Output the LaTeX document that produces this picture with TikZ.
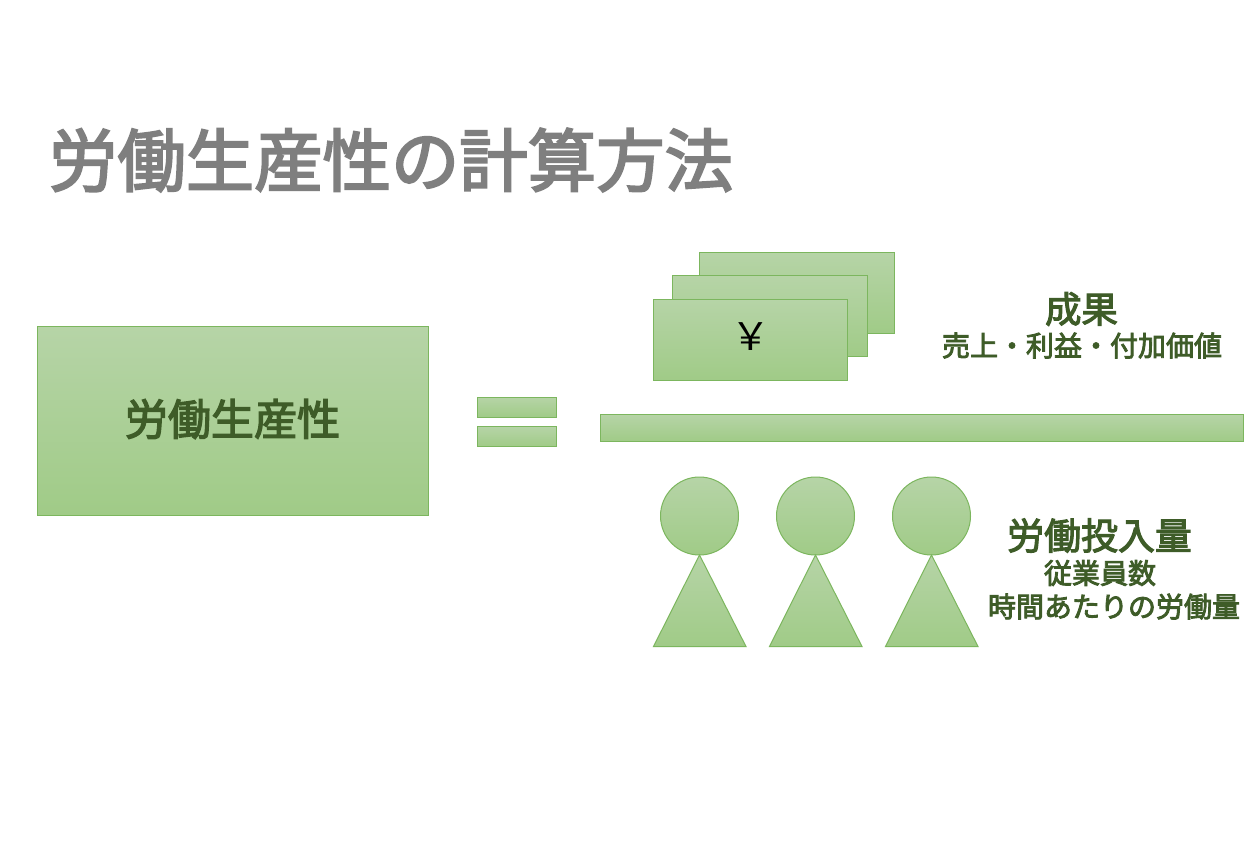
\documentclass[tikz,border=0pt]{standalone}
\usepackage{fontspec}
\setmainfont{Noto Sans CJK JP}[FakeBold=3]
\newfontfamily\plainjp{Noto Sans CJK JP}
\definecolor{gtop}{HTML}{B6D4A7}
\definecolor{gbot}{HTML}{A0CB87}
\definecolor{gline}{HTML}{7CB65E}
\definecolor{gtext}{HTML}{3E5C28}
\definecolor{title}{HTML}{7F7F7F}
\newcommand{\jp}[2]{\fontsize{#1}{#2}\selectfont}
\tikzset{
  px/.style={x=0.75pt,y=-0.75pt},
  greenfill/.style={draw=gline,line width=0.75pt,top color=gtop,bottom color=gbot,middle color=gtop!50!gbot,inner sep=0pt,outer sep=0pt},
  box/.style={greenfill,rectangle,anchor=north west,minimum width=#1},
  circ/.style={greenfill,circle,minimum size=58.5pt,anchor=center},
  tri/.style={draw=gline,line width=0.75pt,top color=gtop,bottom color=gbot},
  label/.style={text=gtext,inner sep=0pt,align=center,anchor=center}
}
\begin{document}
\begin{tikzpicture}[px]
\useasboundingbox (0,0) rectangle (1260,840);
\fill[white] (0,0) rectangle (1260,840);
\node[text=title,inner sep=0pt,anchor=center,font=\jp{51.3pt}{60pt}] (t) at (391,160) {労働生産性の計算方法};
\node[box=293.5pt,minimum height=141.75pt] (lhs) at (37.5,326) {};
\node[label,font=\jp{32.3pt}{38pt}] (lhsT) at (232.5,419) {労働生産性};
\node[box=59.5pt,minimum height=15pt] (eq1) at (477,397) {};
\node[box=59.5pt,minimum height=15pt] (eq2) at (477,426.5) {};
\node[box=482.25pt,minimum height=20pt] (bar) at (600,414.5) {};
\node[box=146.5pt,minimum height=60.75pt] (n3) at (699,252.5) {};
\node[box=146.5pt,minimum height=60.75pt] (n2) at (672.5,275.5) {};
\node[box=145.5pt,minimum height=61pt] (n1) at (653.5,299) {};
\node[inner sep=0pt,anchor=center,font=\plainjp\jp{29pt}{34pt}] (yen) at (750.5,336.5) {￥};
\node[label,font=\jp{27.3pt}{32pt}] (a) at (1081.5,309) {成果};
\node[label,font=\jp{21pt}{26pt}] (b) at (1082,345.5) {売上・利益・付加価値};
\node[label,font=\jp{27.7pt}{32pt}] (c) at (1099.5,535.5) {労働投入量};
\node[label,font=\jp{21pt}{26pt}] (d) at (1100,573) {従業員数};
\node[label,font=\jp{21pt}{26pt}] (e) at (1114,606.5) {時間あたりの労働量};
\node[circ] (h1) at (699.5,516) {};
\node[circ] (h2) at (815.5,516) {};
\node[circ] (h3) at (931.5,516) {};
\coordinate (h1a) at (653.5,646.5); \coordinate (h1b) at (746,646.5);
\coordinate (h2a) at (769.5,646.5); \coordinate (h2b) at (862,646.5);
\coordinate (h3a) at (885.5,646.5); \coordinate (h3b) at (978,646.5);
\draw[tri] (h1.south) -- (h1b) -- (h1a) -- cycle;
\draw[tri] (h2.south) -- (h2b) -- (h2a) -- cycle;
\draw[tri] (h3.south) -- (h3b) -- (h3a) -- cycle;
\end{tikzpicture}
\end{document}
